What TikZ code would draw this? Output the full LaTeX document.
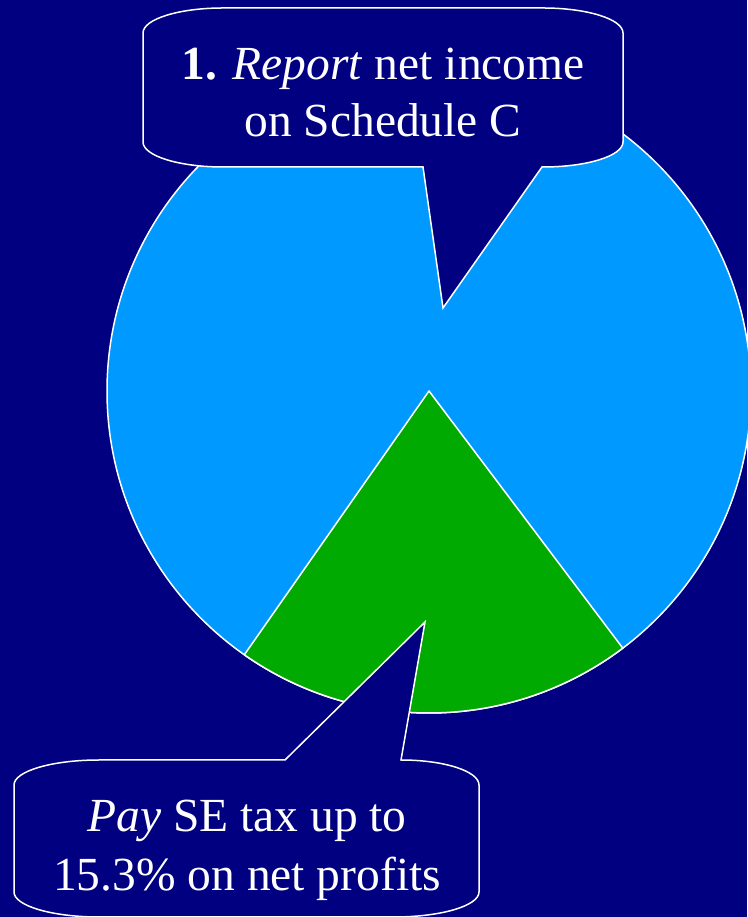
\documentclass[tikz,border=0pt]{standalone}
\usepackage{fontspec}
\setmainfont{Liberation Serif}
\definecolor{navy}{HTML}{000080}
\definecolor{pieblue}{HTML}{0099FF}
\definecolor{piegreen}{HTML}{00AA00}
\tikzset{
  slice/.style={draw=white, line width=1.5pt, line join=round},
  callout/.style={draw=white, fill=navy, line width=1.5pt, line join=miter},
  calltext/.style={text=white, font=\fontsize{47.5}{57}\selectfont, align=center, inner sep=0pt},
}
\begin{document}
\begin{tikzpicture}[x=1pt, y=1pt]
  % page and background
  \useasboundingbox (0,0) rectangle (747,917);
  \fill[navy] (0,0) rectangle (747,917);

  % pie: blue share and green share
  \coordinate (c) at (429,526);
  \fill[pieblue, slice] (c) circle[radius=322];
  \fill[piegreen, slice] (c) -- ++(-125:322) arc[start angle=-125, end angle=-53, radius=322] -- cycle;

  % pointer tips of the two callouts
  \coordinate (tipA) at (443,609);
  \coordinate (tipB) at (425,295);

  % upper callout
  \draw[callout]
    (223,909) -- (543,909)
    arc[start angle=90, end angle=0, x radius=80, y radius=25]
    -- (623,775)
    arc[start angle=0, end angle=-90, x radius=80, y radius=25]
    -- (542,750) -- (tipA) -- (423,750) -- (223,750)
    arc[start angle=270, end angle=180, x radius=80, y radius=25]
    -- (143,884)
    arc[start angle=180, end angle=90, x radius=80, y radius=25]
    -- cycle;
  \node[calltext, anchor=base] (incomeA) at (383,837) {\textbf{1.} \textit{Report} net income};
  \node[calltext, anchor=base] (incomeB) at (383,780) {on Schedule C};

  % lower callout
  \draw[callout]
    (99,157) -- (285,157) -- (tipB) -- (401,157)
    arc[start angle=90, end angle=0, x radius=78, y radius=25]
    -- (479,25)
    arc[start angle=0, end angle=-90, x radius=85, y radius=25]
    -- (99,0)
    arc[start angle=270, end angle=180, x radius=85, y radius=25]
    -- (14,132)
    arc[start angle=180, end angle=90, x radius=85, y radius=25]
    -- cycle;
  \node[calltext, anchor=base] (taxA) at (247,85) {\textit{Pay} SE tax up to};
  \node[calltext, anchor=base] (taxB) at (247,27) {15.3\% on net profits};
\end{tikzpicture}
\end{document}
